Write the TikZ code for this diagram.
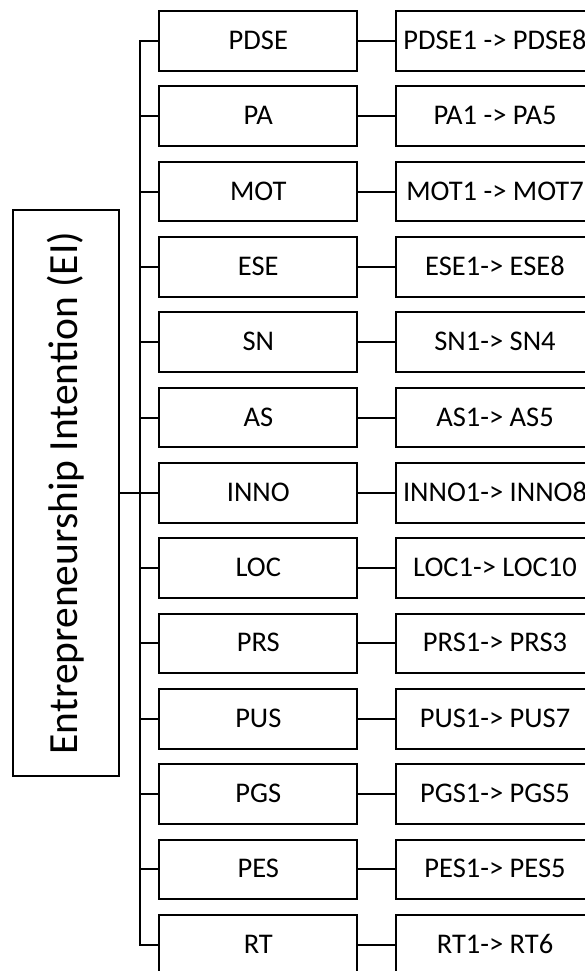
\documentclass[tikz,border=0pt]{standalone}
\usepackage{fontspec}
\setmainfont{Carlito}
\begin{document}
\begin{tikzpicture}[x=1pt,y=-1pt,
  midbox/.style={draw, line width=2pt, rectangle, minimum width=198pt, minimum height=59.7pt, inner sep=0pt, font=\fontsize{28.5}{30}\selectfont, text height=17pt, text depth=0pt},
  eibox/.style={draw, line width=2pt, rectangle, rotate=90, minimum width=566pt, minimum height=106pt, inner sep=0pt, font=\fontsize{41.5}{44}\selectfont},
  conn/.style={line width=2pt, line join=miter}]
\useasboundingbox (0,0) rectangle (585,971);
\clip (0,0) rectangle (585,971);
\fill[white] (0,0) rectangle (585,971);
\coordinate (sp) at (139.5,0);
\foreach \i/\a/\b in {0/PDSE/PDSE1 -> PDSE8, 1/PA/PA1 -> PA5, 2/MOT/MOT1 -> MOT7, 3/ESE/ESE1-> ESE8, 4/SN/SN1-> SN4, 5/AS/AS1-> AS5, 6/INNO/INNO1-> INNO8, 7/LOC/LOC1-> LOC10, 8/PRS/PRS1-> PRS3, 9/PUS/PUS1-> PUS7, 10/PGS/PGS1-> PGS5, 11/PES/PES1-> PES5, 12/RT/RT1-> RT6}{
  \node[midbox] (m\i) at (258.3, 40.85+75.33*\i) {\a};
  \node[midbox] (r\i) at (495, 40.85+75.33*\i) {\b};
  \draw[conn] (m\i.east) -- (r\i.west);
}
\foreach \i in {1,...,11}{
  \draw[conn] (m\i.west -| sp) -- (m\i.west);
}
\draw[conn] (m0.west) -- (m0.west -| sp) -- (m12.west -| sp) -- (m12.west);
\node[eibox] (ei) at (66,493) {Entrepreneurship Intention (EI)};
\draw[conn] (ei.south) -- (ei.south -| sp);
\end{tikzpicture}
\end{document}
